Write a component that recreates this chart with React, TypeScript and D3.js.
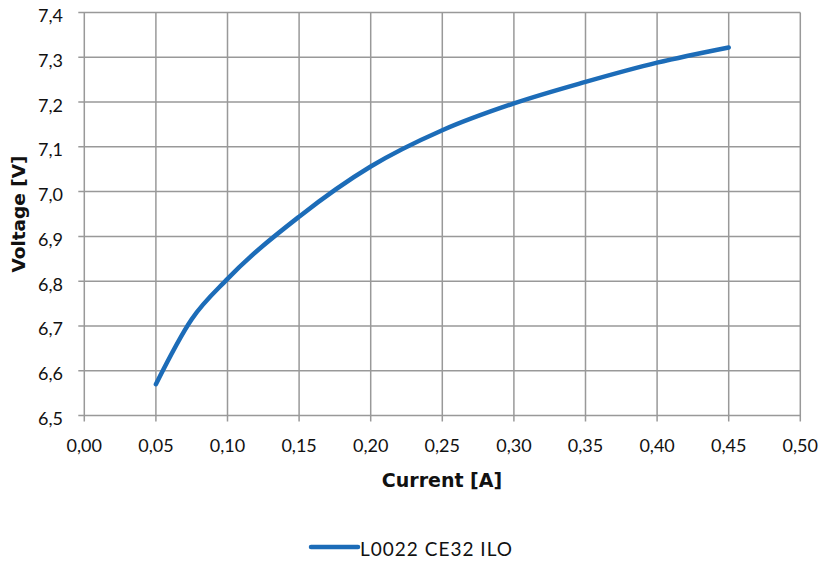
import { line, curveMonotoneX, scaleLinear, range } from 'd3'

const width = 823
const height = 562
const margin = { left: 84.3, right: 22.7, top: 12.5, bottom: 146.5 }

const seriesName = 'L0022 CE32 ILO'
const current = [0.05, 0.075, 0.1, 0.15, 0.2, 0.25, 0.3, 0.35, 0.4, 0.45]
const voltage = [6.57, 6.715, 6.805, 6.944, 7.056, 7.137, 7.197, 7.245, 7.288, 7.322]

const xTicks = range(0, 11).map((i) => i * 0.05)
const yTicks = range(0, 10).map((i) => 6.5 + i * 0.1)

const fmt = (v: number, d: number) => v.toFixed(d).replace('.', ',')

const font = 'Lato, "Open Sans", sans-serif'
const titleFont = '"DejaVu Sans", sans-serif'

export default function App() {
  const x = scaleLinear()
    .domain([0, 0.5])
    .range([margin.left, width - margin.right])
  const y = scaleLinear()
    .domain([6.5, 7.4])
    .range([height - margin.bottom, margin.top])

  const points = current.map((c, i) => [c, voltage[i]] as [number, number])
  const path = line<[number, number]>()
    .x((d) => x(d[0]))
    .y((d) => y(d[1]))
    .curve(curveMonotoneX)(points)

  const x0 = x(0)
  const x1 = x(0.5)
  const y0 = y(6.5)
  const y1 = y(7.4)

  return (
    <svg
      width={width}
      height={height}
      style={{ position: 'absolute', left: 0, top: 0, background: '#fff' }}
    >
      {/* grid */}
      {xTicks.map((t) => (
        <line
          key={'gx' + t}
          x1={x(t)}
          x2={x(t)}
          y1={y1}
          y2={y0 + 6}
          stroke="#999"
          strokeWidth={1.5}
        />
      ))}
      {yTicks.map((t) => (
        <line
          key={'gy' + t}
          x1={x0 - 6}
          x2={x1}
          y1={y(t)}
          y2={y(t)}
          stroke="#999"
          strokeWidth={1.5}
        />
      ))}

      {/* tick labels */}
      {yTicks.map((t) => (
        <text
          key={'ly' + t}
          x={63}
          y={y(t) + 9.5}
          textAnchor="end"
          fontFamily={font}
          fontSize={18}
          fill="#111"
        >
          {fmt(t, 1)}
        </text>
      ))}
      {xTicks.map((t) => (
        <text
          key={'lx' + t}
          x={x(t)}
          y={452}
          textAnchor="middle"
          fontFamily={font}
          fontSize={18}
          fill="#111"
        >
          {fmt(t, 2)}
        </text>
      ))}

      {/* axis titles */}
      <text
        x={442}
        y={487}
        textAnchor="middle"
        fontFamily={titleFont}
        fontSize={19}
        fontWeight="bold"
        fill="#111"
      >
        Current [A]
      </text>
      <text
        transform={`translate(25,${(y0 + y1) / 2}) rotate(-90)`}
        textAnchor="middle"
        fontFamily={titleFont}
        fontSize={18.5}
        fontWeight="bold"
        fill="#111"
      >
        Voltage [V]
      </text>

      {/* series */}
      <path
        d={path ?? ''}
        fill="none"
        stroke="#1c6cb8"
        strokeWidth={4.5}
        strokeLinecap="round"
      />

      {/* legend */}
      <line
        x1={311}
        x2={358}
        y1={547}
        y2={547}
        stroke="#1c6cb8"
        strokeWidth={4.5}
        strokeLinecap="round"
      />
      <text
        x={360}
        y={556}
        fontFamily={font}
        fontSize={19}
        fill="#111"
        textLength={152}
        lengthAdjust="spacing"
      >
        {seriesName}
      </text>
    </svg>
  )
}
